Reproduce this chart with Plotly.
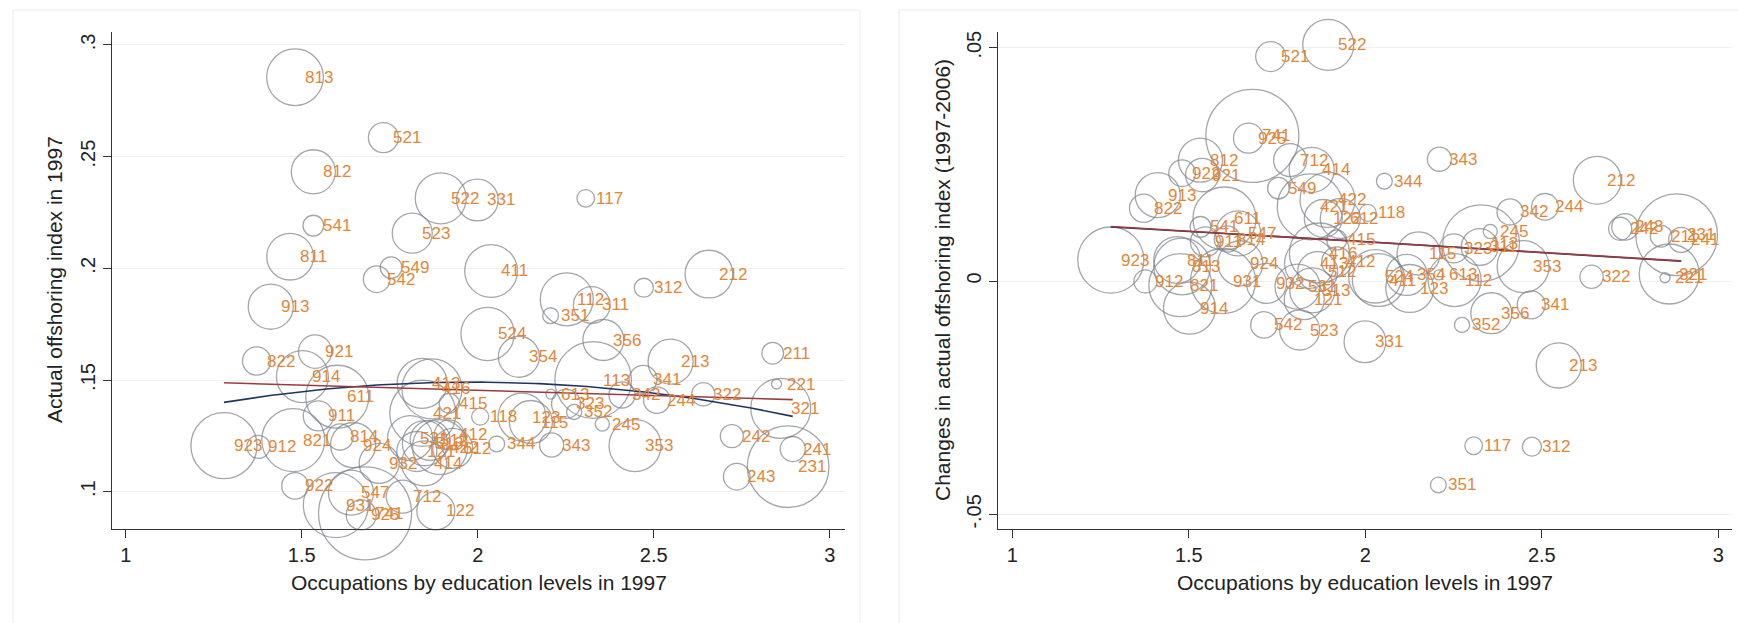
import numpy as np
import plotly.graph_objects as go

# Occupation codes (3-digit), education level in 1997, offshoring index in 1997,
# change in offshoring index 1997-2006, and employment weight (thousands)
codes = [
    "813", "521", "812", "541", "811", "549", "542", "913", "523", "522",
    "331", "117", "411", "312", "212", "112", "311", "351", "524", "354",
    "356", "113", "213", "211", "221", "241", "231", "243", "242", "322",
    "244", "342", "341", "353", "245", "343", "344", "118", "123", "115",
    "613", "323", "352", "822", "921", "914", "611", "911", "923", "912",
    "821", "922", "741", "925", "547", "931", "814", "924", "932", "712",
    "122", "414", "421", "415", "412", "612", "413", "416", "513", "512",
    "422", "531", "121", "321",
]
edu_1997 = [
    1.481, 1.732, 1.533, 1.533, 1.467, 1.754, 1.713, 1.412, 1.814, 1.895,
    1.999, 2.307, 2.038, 2.472, 2.657, 2.253, 2.324, 2.207, 2.028, 2.117,
    2.357, 2.328, 2.548, 2.838, 2.849, 2.895, 2.882, 2.736, 2.722, 2.641,
    2.509, 2.410, 2.470, 2.447, 2.354, 2.210, 2.054, 2.007, 2.126, 2.151,
    2.208, 2.251, 2.274, 1.372, 1.538, 1.502, 1.601, 1.547, 1.279, 1.377,
    1.476, 1.481, 1.680, 1.669, 1.640, 1.597, 1.609, 1.646, 1.720, 1.787,
    1.881, 1.848, 1.844, 1.919, 1.919, 1.929, 1.842, 1.870, 1.850, 1.865,
    1.893, 1.808, 1.827, 2.861,
]
offshoring_1997 = [
    0.2855, 0.2585, 0.2432, 0.2191, 0.2052, 0.2003, 0.1951, 0.1828, 0.2157, 0.2313,
    0.2306, 0.2313, 0.1988, 0.1913, 0.1974, 0.1861, 0.1836, 0.1788, 0.1706, 0.1604,
    0.1679, 0.1500, 0.1582, 0.1620, 0.1482, 0.1191, 0.1112, 0.1067, 0.1249, 0.1436,
    0.1410, 0.1433, 0.1503, 0.1206, 0.1303, 0.1209, 0.1214, 0.1336, 0.1334, 0.1312,
    0.1437, 0.1393, 0.1357, 0.1585, 0.1627, 0.1515, 0.1425, 0.1339, 0.1206, 0.1201,
    0.1231, 0.1026, 0.0903, 0.0896, 0.0996, 0.0940, 0.1245, 0.1209, 0.1127, 0.0978,
    0.0914, 0.1127, 0.1351, 0.1396, 0.1254, 0.1194, 0.1485, 0.1460, 0.1217, 0.1230,
    0.1200, 0.1240, 0.1180, 0.1373,
]
offshoring_change = [
    0.0031, 0.0481, 0.0259, 0.0116, 0.0045, 0.0199, -0.0094, 0.0184, -0.0105, 0.0506,
    -0.0130, -0.0353, 0.0002, -0.0355, 0.0216, 0.0002, 0.0073, -0.0437, 0.0010, 0.0013,
    -0.0069, 0.0081, -0.0181, 0.0096, 0.0007, 0.0088, 0.0099, 0.0116, 0.0112, 0.0009,
    0.0159, 0.0148, -0.0051, 0.0031, 0.0106, 0.0261, 0.0214, 0.0146, -0.0016, 0.0059,
    0.0013, 0.0070, -0.0094, 0.0156, 0.0227, -0.0058, 0.0134, 0.0084, 0.0045, -0.0001,
    -0.0009, 0.0231, 0.0311, 0.0306, 0.0102, 0.0000, 0.0090, 0.0038, -0.0005, 0.0259,
    0.0134, 0.0238, 0.0159, 0.0088, 0.0041, 0.0134, 0.0038, 0.0060, -0.0020, 0.0020,
    0.0174, -0.0012, -0.0040, 0.0015,
]
employment = [
    32.1, 9.0, 19.4, 4.3, 21.8, 4.7, 7.1, 20.3, 16.0, 26.0,
    17.4, 3.1, 27.8, 3.6, 22.8, 28.1, 13.5, 2.5, 28.4, 16.8,
    16.8, 58.8, 20.3, 4.7, 1.0, 6.3, 66.7, 7.1, 5.3, 5.4,
    7.1, 6.8, 7.8, 27.0, 2.0, 5.8, 2.5, 2.9, 23.0, 18.5,
    1.0, 8.4, 2.3, 8.0, 11.1, 27.0, 39.7, 9.0, 43.6, 5.3,
    39.7, 7.1, 86.5, 9.0, 20.3, 42.3, 6.8, 20.3, 16.0, 10.9,
    14.4, 20.3, 43.6, 4.0, 9.0, 16.0, 25.0, 36.0, 20.3, 16.0,
    30.3, 20.3, 16.0, 36.0,
]

x_ticks = [1, 1.5, 2, 2.5, 3]
x_ticktext = ["1", "1.5", "2", "2.5", "3"]
y1_ticks = [0.1, 0.15, 0.2, 0.25, 0.3]
y1_ticktext = [".1", ".15", ".2", ".25", ".3"]
y2_ticks = [-0.05, 0, 0.05]
y2_ticktext = ["-.05", "0", ".05"]

W, H = 1738, 623
FONT = "Liberation Sans, Arial, sans-serif"
CIRCLE = "#7d8288"
LABEL = "#e2873a"
NAVY = "#1f3560"
MAROON = "#9a3b40"
AXIS = "#333333"

x = np.asarray(edu_1997)
w = np.asarray(employment)


def fits(y):
    """Employment-weighted linear and quadratic fits over the observed x range."""
    y = np.asarray(y)
    grid = np.linspace(x.min(), x.max(), 120)
    lin = np.polyval(np.polyfit(x, y, 1, w=np.sqrt(w)), grid)
    quad = np.polyval(np.polyfit(x, y, 2, w=np.sqrt(w)), grid)
    return grid, lin, quad


fig = go.Figure()
annotations = []

panels = [
    ("x", "y", offshoring_1997),
    ("x2", "y2", offshoring_change),
]
for xa, ya, yvals in panels:
    fig.add_trace(go.Scatter(
        x=edu_1997, y=yvals, mode="markers", xaxis=xa, yaxis=ya,
        cliponaxis=False,
        marker=dict(
            symbol="circle", size=employment, sizemode="area", sizeref=0.02,
            color="rgba(0,0,0,0)", line=dict(color=CIRCLE, width=1.3),
        ),
        hoverinfo="skip", showlegend=False,
    ))
    grid, lin, quad = fits(yvals)
    fig.add_trace(go.Scatter(x=grid, y=quad, mode="lines", xaxis=xa, yaxis=ya,
                             line=dict(color=NAVY, width=1.6), showlegend=False))
    fig.add_trace(go.Scatter(x=grid, y=lin, mode="lines", xaxis=xa, yaxis=ya,
                             line=dict(color=MAROON, width=1.6), showlegend=False))
    for c, xv, yv in zip(codes, edu_1997, yvals):
        annotations.append(dict(
            x=xv, y=yv, xref=xa, yref=ya, text=c, showarrow=False,
            xanchor="left", yanchor="middle", xshift=8,
            font=dict(family=FONT, size=17, color=LABEL),
        ))

# axis titles
titles = [
    (478.5, 582, "Occupations by education levels in 1997", 0),
    (1365, 582, "Occupations by education levels in 1997", 0),
    (54, 280, "Actual offshoring index in 1997", -90),
    (942, 280, "Changes in actual offshoring index (1997-2006)", -90),
]
for px, py, txt, ang in titles:
    annotations.append(dict(
        x=px / W, y=1 - py / H, xref="paper", yref="paper", text=txt,
        showarrow=False, textangle=ang, xanchor="center", yanchor="middle",
        font=dict(family=FONT, size=21, color="#222222"),
    ))

xa_style = dict(
    showline=True, linecolor=AXIS, linewidth=1.3, ticks="outside", ticklen=8,
    tickwidth=1.3, tickcolor=AXIS, showgrid=False, zeroline=False,
    tickvals=x_ticks, ticktext=x_ticktext,
    tickfont=dict(family=FONT, size=20, color="#222222"),
)
ya_style = dict(
    showline=True, linecolor=AXIS, linewidth=1.3, ticks="outside", ticklen=8,
    tickwidth=1.3, tickcolor=AXIS, showgrid=True, gridcolor="#eef0f1",
    gridwidth=1, zeroline=False, tickangle=-90,
    tickfont=dict(family=FONT, size=20, color="#222222"),
)

y_dom = [1 - 529.3 / H, 1 - 31.7 / H]
fig.update_layout(
    width=W, height=H, autosize=False,
    margin=dict(l=0, r=0, t=0, b=0),
    paper_bgcolor="white", plot_bgcolor="white",
    xaxis=dict(xa_style, domain=[112 / W, 845 / W], range=[0.961, 3.0435],
               anchor="y"),
    yaxis=dict(ya_style, domain=y_dom, range=[0.08317, 0.3059], anchor="x",
               tickvals=y1_ticks, ticktext=y1_ticktext),
    xaxis2=dict(xa_style, domain=[998.3 / W, 1731.7 / W], range=[0.9603, 3.038],
                anchor="y2"),
    yaxis2=dict(ya_style, domain=y_dom, range=[-0.0532, 0.05342], anchor="x2",
                tickvals=y2_ticks, ticktext=y2_ticktext),
    annotations=annotations,
    shapes=[
        dict(type="rect", xref="paper", yref="paper", x0=13 / W, x1=860 / W,
             y0=-0.01, y1=1 - 10 / H, line=dict(color="#ececec", width=1)),
        dict(type="rect", xref="paper", yref="paper", x0=899 / W, x1=1.01,
             y0=-0.01, y1=1 - 10 / H, line=dict(color="#ececec", width=1)),
    ],
)

fig.write_html("out.html")
